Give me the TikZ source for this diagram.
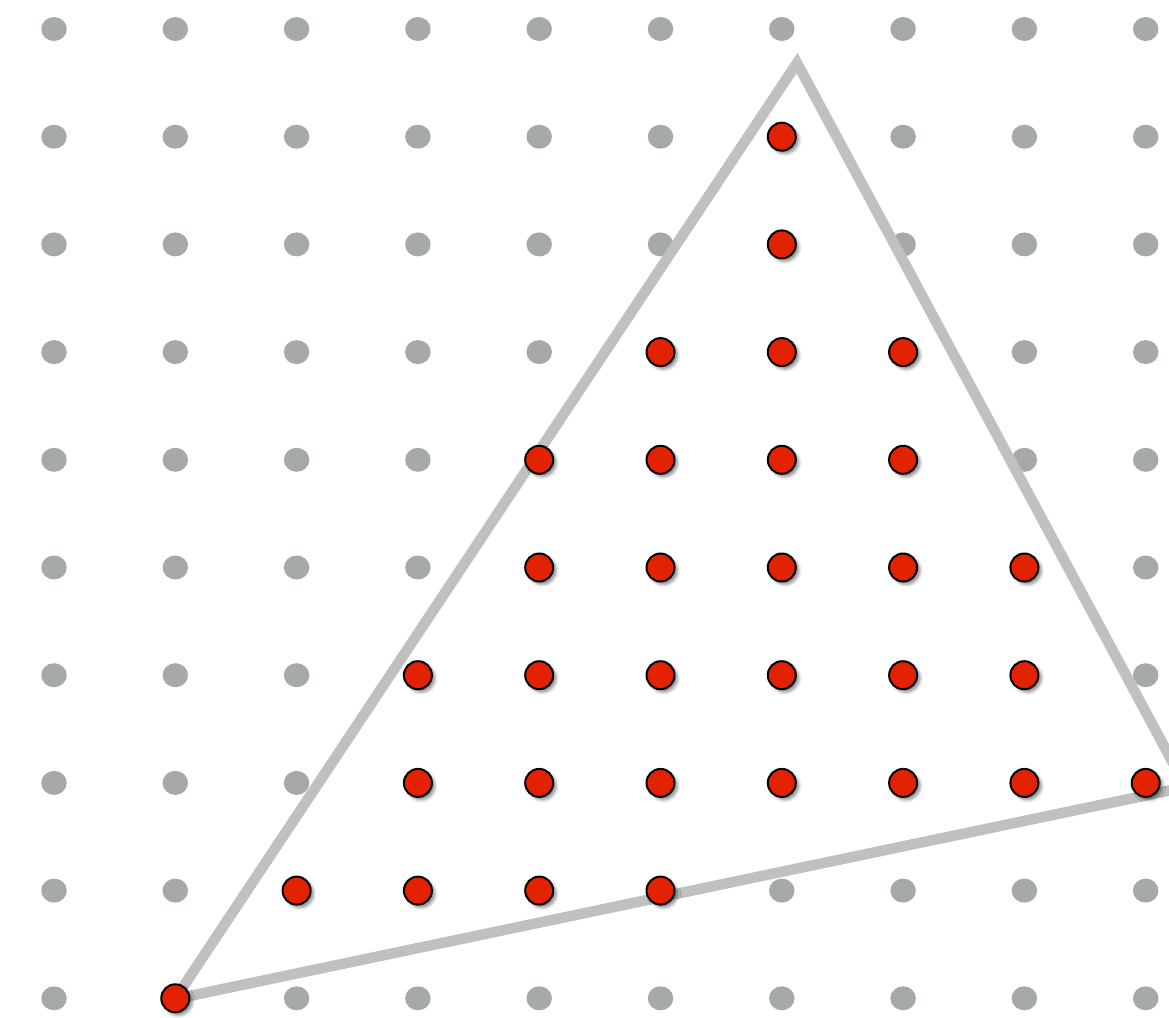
\documentclass[tikz,border=0pt]{standalone}
\usetikzlibrary{shadows.blur,shapes.geometric}
\definecolor{dotgray}{RGB}{165,169,168}
\definecolor{trigray}{RGB}{192,192,192}
\definecolor{dotred}{RGB}{226,34,0}
\begin{document}
\begin{tikzpicture}[x=1pt,y=-1pt,
  graydot/.style={ellipse,fill=dotgray,minimum width=25.5pt,minimum height=24pt,inner sep=0pt,draw=none},
  reddot/.style={circle,fill=dotred,draw=black,line width=2pt,minimum size=28pt,inner sep=0pt,
    blur shadow={shadow xshift=3pt,shadow yshift=-3pt,shadow blur radius=3pt,shadow opacity=45}},
  triline/.style={draw=trigray,line width=10.5pt,line join=miter}]
\useasboundingbox (0,0) rectangle (1169,1017);
\clip (0,0) rectangle (1169,1017);
\def\rows{0/99/-1,1/6/6,2/6/6,3/5/7,4/4/7,5/4/8,6/3/8,7/3/9,8/2/5,9/1/1}
% gray dots
\foreach \j/\lo/\hi in \rows {
  \foreach \i in {0,...,9} {
    \pgfmathsetmacro{\xx}{54+121.3*\i}
    \pgfmathsetmacro{\yy}{29+107.7*\j}
    \ifnum\i<\lo
      \node[graydot] (g-\i-\j) at (\xx,\yy) {};
    \else\ifnum\i>\hi
      \node[graydot] (g-\i-\j) at (\xx,\yy) {};
    \fi\fi
  }
}
% triangle
\coordinate (A) at (175,999);
\coordinate (B) at (797,63);
\coordinate (C) at (1186,787);
\draw[triline] (A) -- (B) -- (C) -- cycle;
% red dots
\foreach \j/\lo/\hi in \rows {
  \foreach \i in {0,...,9} {
    \pgfmathsetmacro{\xx}{54+121.3*\i}
    \pgfmathsetmacro{\yy}{29+107.7*\j}
    \ifnum\i<\lo\else\ifnum\i>\hi\else
      \node[reddot] (r-\i-\j) at (\xx,\yy) {};
    \fi\fi
  }
}
\end{tikzpicture}
\end{document}
